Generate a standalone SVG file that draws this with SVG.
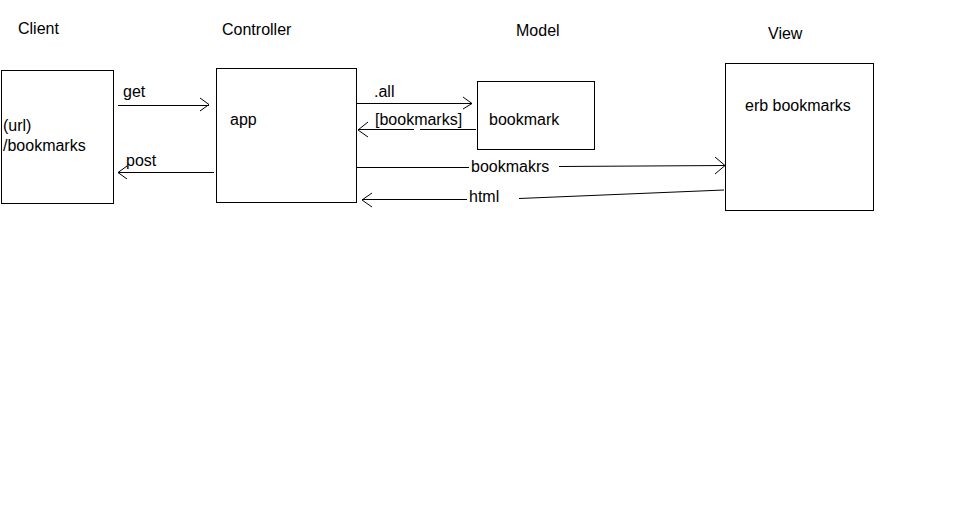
<svg xmlns="http://www.w3.org/2000/svg" width="961" height="519" viewBox="0 0 961 519">
<style>
text{font-family:"Liberation Sans",Arial,sans-serif;font-size:16px;fill:#000}
.box{fill:#fff;stroke:#000;stroke-width:1}
.ln{fill:none;stroke:#000;stroke-width:1}
</style>
<rect width="961" height="519" fill="#fff"/>
<g id="titles">
<text x="18" y="34">Client</text>
<text x="222" y="35">Controller</text>
<text x="516" y="36">Model</text>
<text x="768" y="39">View</text>
</g>
<g id="client"><rect class="box" x="1.5" y="70.5" width="112" height="133"/><text x="3" y="131">(url)</text><text x="3" y="151">/bookmarks</text></g>
<g id="app"><rect class="box" x="216.5" y="68.5" width="140" height="134"/><text x="230" y="125">app</text></g>
<g id="bookmark"><rect class="box" x="477.5" y="81.5" width="117" height="68"/><text x="489" y="125">bookmark</text></g>
<g id="view"><rect class="box" x="725.5" y="63.5" width="148" height="147"/><text x="745" y="111">erb bookmarks</text></g>
<g id="connectors">
<path class="ln" d="M118 105.5H209M200 98L209 104.5L200 111"/>
<text x="123" y="97">get</text>
<path class="ln" d="M214 172.5H118M127 166L118 172.5L127 179"/>
<text x="126" y="166">post</text>
<path class="ln" d="M357 103.5H472M463 97L472 103.5L463 109"/>
<text x="374" y="97">.all</text>
<path class="ln" d="M476 129.5H420M414 129.5H358M368 122L358 130L368 137"/>
<text x="375" y="125">[bookmarks]</text>
<path class="ln" d="M357 167.5H469M559 166.5L725 165.5M715 157L725 165.5L715 174"/>
<text x="471" y="172">bookmakrs</text>
<path class="ln" d="M724 190L519 198.5M467 199.5H362M372 193L362 200L372 207"/>
<text x="469" y="202">html</text>
</g>
</svg>
